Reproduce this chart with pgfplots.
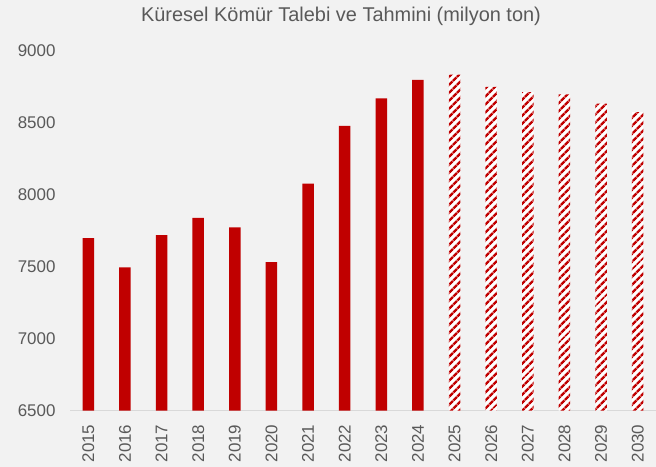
\documentclass[border=0pt]{standalone}
\usepackage{pgfplots}
\pgfplotsset{compat=1.18}
\usepackage{fontspec}
\setmainfont{Liberation Sans}
\usetikzlibrary{patterns.meta}
\definecolor{bg}{HTML}{F2F2F2}
\definecolor{barred}{HTML}{C00000}
\definecolor{txt}{HTML}{595959}
\definecolor{axl}{HTML}{D9D9D9}
\begin{document}
\begin{tikzpicture}
\fill[bg] (0,0) rectangle (656bp,467bp);
\useasboundingbox (0,0) rectangle (656bp,467bp);
\node[text=txt, font=\fontsize{20}{22}\selectfont] at (341bp,451bp) {Küresel Kömür Talebi ve Tahmini (milyon ton)};
\begin{axis}[
  at={(70bp,56.3bp)}, anchor=south west,
  scale only axis, width=586bp, height=359.7bp,
  xmin=-0.5, xmax=15.5, ymin=6500, ymax=9000,
  ytick={6500,7000,7500,8000,8500,9000},
  xtick={0,...,15},
  xticklabels={2015,2016,2017,2018,2019,2020,2021,2022,2023,2024,2025,2026,2027,2028,2029,2030},
  axis x line*=bottom, axis y line*=left,
  x axis line style={draw=axl, line width=1.5bp, -},
  y axis line style={draw=none},
  major tick length=0pt,
  tick label style={text=txt, font=\fontsize{17}{19}\selectfont},
  /pgf/number format/assume math mode=true,
  /pgf/number format/set thousands separator={},
  yticklabel style={anchor=east, xshift=-11bp},
  xticklabel style={rotate=90, anchor=east},
  xticklabel shift=10.5bp,
  clip=false,
]
\addplot[ybar, bar width=11.5bp, bar shift=0pt, draw=none, fill=barred] coordinates {
(0,7700) (1,7496) (2,7720) (3,7840) (4,7775) (5,7532) (6,8078) (7,8480) (8,8670) (9,8800)};
\addplot[ybar, bar width=11.5bp, bar shift=0pt, draw=none, fill=white,
  postaction={pattern={Lines[angle=45,distance=6bp,line width=3bp]}, pattern color=barred}] coordinates {
(10,8835) (11,8750) (12,8715) (13,8698) (14,8635) (15,8575)};
\end{axis}
\end{tikzpicture}
\end{document}
